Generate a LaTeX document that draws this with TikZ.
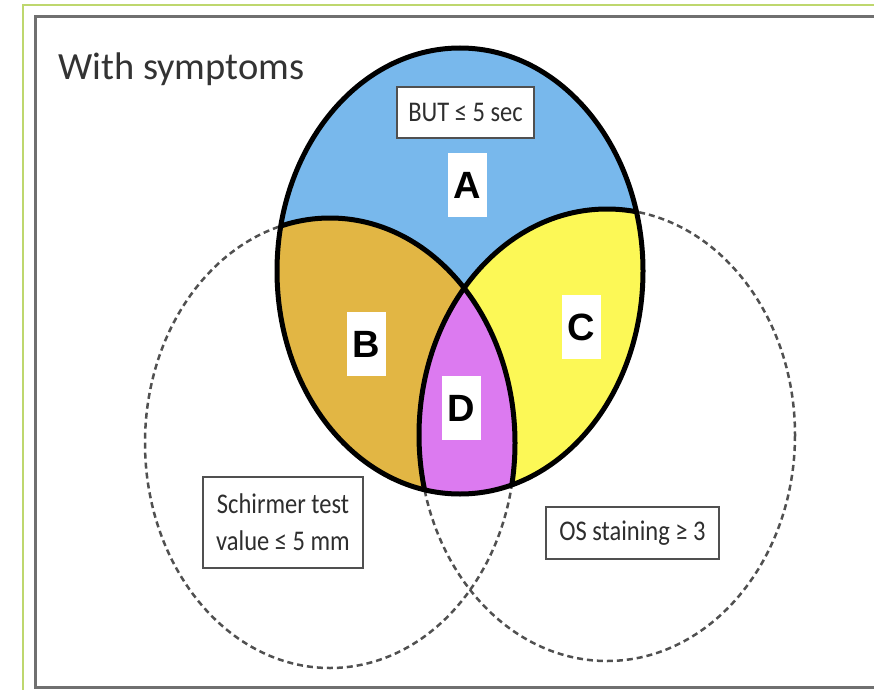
\documentclass[tikz,border=0pt]{standalone}
\usepackage{fontspec}
\setmainfont{Carlito}
\newfontfamily\condfont[FakeStretch=0.86]{Carlito}
\newfontfamily\letterfont{Liberation Sans}
\definecolor{blueA}{RGB}{120,184,236}
\definecolor{goldB}{RGB}{226,182,68}
\definecolor{yellowC}{RGB}{252,248,86}
\definecolor{violetD}{RGB}{220,122,240}
\definecolor{frameg}{RGB}{112,112,112}
\definecolor{greenl}{RGB}{190,215,110}
\definecolor{dashg}{RGB}{80,80,80}
\tikzset{
  dashring/.style={draw=dashg, line width=2.5pt, dash pattern=on 6pt off 4pt},
  boldline/.style={draw=black, line width=5pt},
  letterbox/.style={fill=white, inner sep=0pt, minimum width=39pt, minimum height=64pt,
    font=\letterfont\bfseries\fontsize{38}{38}\selectfont},
  labelbox/.style={draw=dashg, line width=2.2pt, fill=white, inner sep=0pt, align=center,
    font=\condfont\fontsize{28.5}{37}\selectfont, text=black!82}
}
\begin{document}
\begin{tikzpicture}[x=1pt,y=-1pt]
\useasboundingbox (0,0) rectangle (874,690);
\fill[white] (0,0) rectangle (874,690);
% outer borders
\draw[greenl, line width=1.5pt] (874,5) -- (23,5) -- (23,690);
\draw[frameg, line width=3pt] (874,17) -- (35,17) -- (35,687) -- (874,687);
% dashed rings
\draw[dashring] (330,443) ellipse [x radius=185, y radius=225];
\draw[dashring] (607,435) ellipse [x radius=188, y radius=226];
% fills inside main ellipse
\fill[blueA] (460,271) ellipse [x radius=183, y radius=223];
\begin{scope}
  \clip (460,271) ellipse [x radius=183, y radius=223];
  \fill[goldB] (330,443) ellipse [x radius=185, y radius=225];
  \fill[yellowC] (607,435) ellipse [x radius=188, y radius=226];
  \begin{scope}
    \clip (330,443) ellipse [x radius=185, y radius=225];
    \fill[violetD] (607,435) ellipse [x radius=188, y radius=226];
  \end{scope}
  \draw[boldline] (330,443) ellipse [x radius=185, y radius=225];
  \draw[boldline] (607,435) ellipse [x radius=188, y radius=226];
\end{scope}
\draw[boldline] (460,271) ellipse [x radius=183, y radius=223];
% title
\node[anchor=base west, inner sep=0pt, font=\fontsize{38.5}{38}\selectfont, text=black!80] (title) at (58,80) {With symptoms};
% region letters
\node[letterbox] (A) at (467,185) {A};
\node[letterbox] (B) at (366,344) {B};
\node[letterbox] (C) at (581,327) {C};
\node[letterbox] (D) at (461,408) {D};
% criteria boxes
\node[labelbox, minimum width=137pt, minimum height=51pt] (but) at (465.5,112.5) {BUT ≤ 5 sec};
\node[labelbox, minimum width=160pt, minimum height=91pt] (schirmer) at (283,522.5) {Schirmer test\\value ≤ 5 mm};
\node[labelbox, minimum width=173pt, minimum height=52pt] (os) at (632.5,533) {OS staining ≥ 3};
\end{tikzpicture}
\end{document}
